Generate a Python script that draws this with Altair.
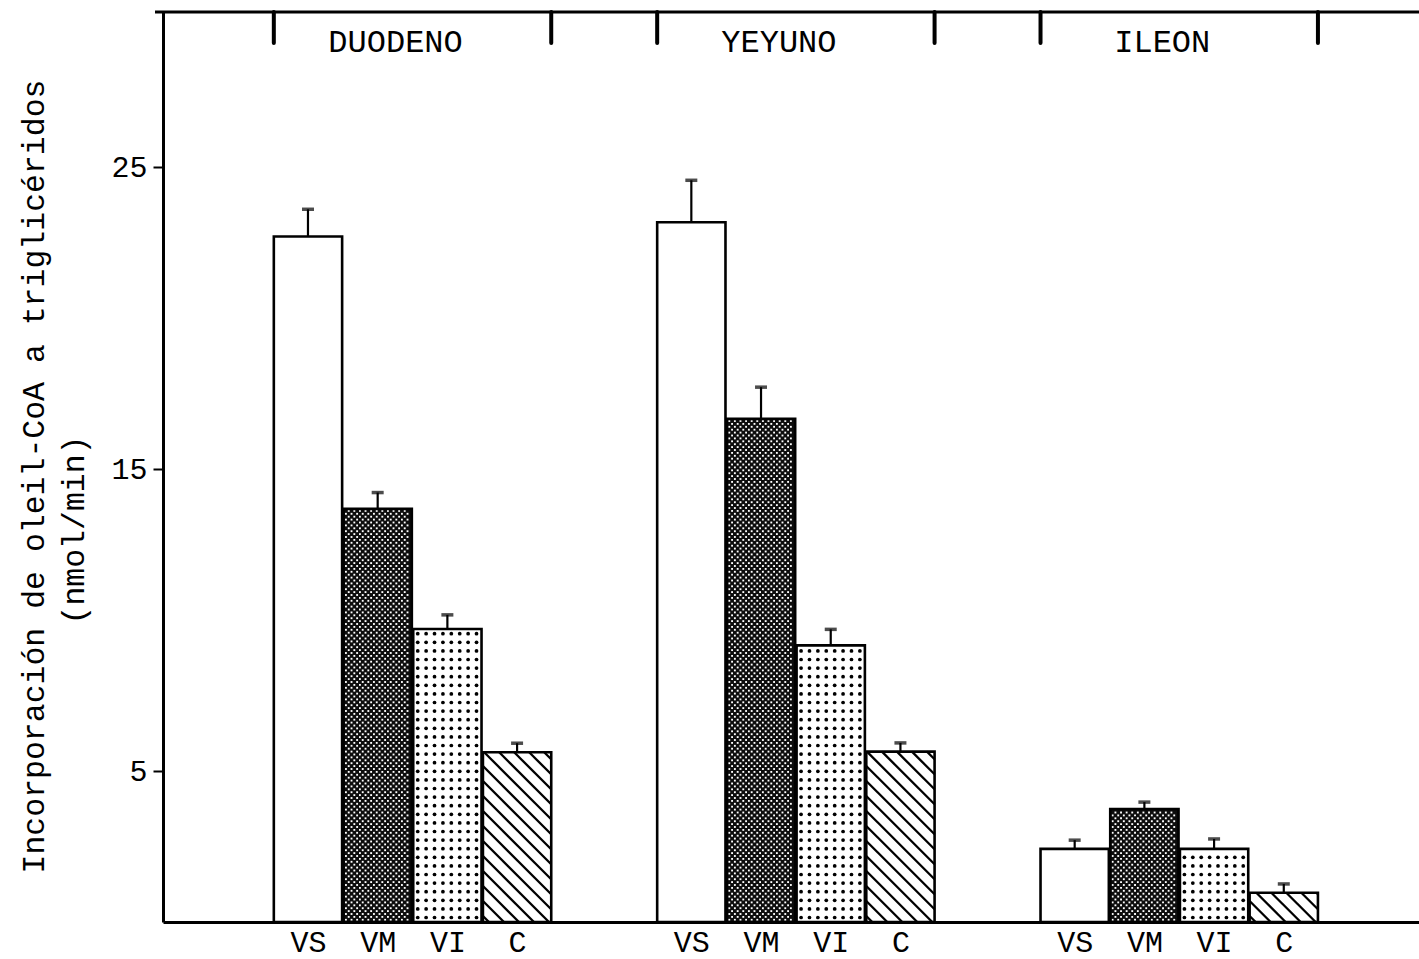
import altair as alt
import pandas as pd

# ---------------- data ----------------
groups = ["DUODENO", "YEYUNO", "ILEON"]
series = ["VS", "VM", "VI", "C"]
duodeno_mean = [22.70, 13.68, 9.70, 5.62]
duodeno_err = [0.90, 0.54, 0.47, 0.30]
yeyuno_mean = [23.17, 16.66, 9.16, 5.64]
yeyuno_err = [1.39, 1.05, 0.53, 0.29]
ileon_mean = [2.42, 3.74, 2.42, 0.97]
ileon_err = [0.29, 0.23, 0.33, 0.29]
y_ticks = [5, 15, 25]
y_title = ["Incorporación de oleil-CoA a triglicéridos", "(nmol/min)"]

# ---------------- layout ----------------
FONT = "Liberation Mono"
W, H = 1256, 910
XMIN, XMAX = -2.08, 15.94
PY = 30.2
YMAX = H / PY
GROUP_STEP = 5.5
HALF = 0.49
PX = W / (XMAX - XMIN)

means = [duodeno_mean, yeyuno_mean, ileon_mean]
errs = [duodeno_err, yeyuno_err, ileon_err]

rows = []
for g, grp in enumerate(groups):
    for s, ser in enumerate(series):
        pos = g * GROUP_STEP + s
        m = means[g][s]
        rows.append(dict(group=grp, serie=ser, pos=pos, x0=pos - HALF, x1=pos + HALF,
                         mean=m, upper=m + errs[g][s]))
bars = pd.DataFrame(rows)

# textures (derived from the bars)
vm_dots, vi_dots, hatch = [], [], []
for r in rows:
    wpx = (r["x1"] - r["x0"]) * PX
    hpx = r["mean"] * PY
    if r["serie"] == "VM":
        k = 0
        yy = 2.2
        while yy < hpx - 1.8:
            xx = 2.4 + (k % 2) * 2.8
            while xx < wpx - 1.8:
                vm_dots.append(dict(x=r["x0"] + xx / PX, y=yy / PY))
                xx += 5.6
            yy += 2.9
            k += 1
    elif r["serie"] == "VI":
        yy = 4.5
        while yy < hpx - 3:
            xx = 4.5
            while xx < wpx - 3:
                vi_dots.append(dict(x=r["x0"] + xx / PX, y=yy / PY))
                xx += 8.4
            yy += 8.6
    elif r["serie"] == "C":
        c = 6.0
        while c < wpx + hpx:
            u0 = max(0.0, c - hpx)
            u1 = min(wpx, c)
            if u1 > u0:
                hatch.append(dict(x=r["x0"] + u0 / PX, y=(c - u0) / PY,
                                  x2=r["x0"] + u1 / PX, y2=(c - u1) / PY))
            c += 15.0
vm_df = pd.DataFrame(vm_dots)
vi_df = pd.DataFrame(vi_dots)
hatch_df = pd.DataFrame(hatch)

grp_rows = []
edge_rows = []
for g, grp in enumerate(groups):
    grp_rows.append(dict(group=grp, xc=g * GROUP_STEP + 1.5))
    edge_rows.append(dict(xe=g * GROUP_STEP - HALF))
    edge_rows.append(dict(xe=g * GROUP_STEP + 3 + HALF))
grp_df = pd.DataFrame(grp_rows)
edge_df = pd.DataFrame(edge_rows)

centers = list(bars["pos"])

x_axis = alt.Axis(values=centers, labelExpr="['VS','VM','VI','C'][round(datum.value % 5.5)]",
                  ticks=False, domainWidth=3, domainColor="black", labelFont=FONT,
                  labelFontSize=30, labelColor="black", labelPadding=5, labelOverlap=False,
                  labelFlush=False, title=None, grid=False)
y_axis = alt.Axis(values=y_ticks, tickSize=10, tickWidth=2, tickColor="black",
                  domainWidth=3, domainColor="black", labelFont=FONT, labelFontSize=30,
                  labelColor="black", labelPadding=6, grid=False,
                  title=y_title[0], titleFont=FONT, titleFontSize=31.5, titleFontWeight="normal",
                  titleColor="black", titleAngle=270, titleX=-145, titleY=464,
                  titleBaseline="top", titleAlign="center")

xs = alt.Scale(domain=[XMIN, XMAX], nice=False, zero=False)
ys = alt.Scale(domain=[0, YMAX], nice=False, zero=True)


def X(f):
    return alt.X(f, type="quantitative", scale=xs, axis=x_axis)


def Y(f):
    return alt.Y(f, type="quantitative", scale=ys, axis=y_axis)


fill_scale = alt.Scale(domain=series, range=["white", "#0d0d0d", "white", "white"])

bar_fill = alt.Chart(bars).mark_rect(strokeWidth=0).encode(
    x=X("x0"), x2="x1", y=Y("mean"), y2=alt.datum(0),
    fill=alt.Fill("serie:N", scale=fill_scale, legend=None))

vm_layer = alt.Chart(vm_df).mark_square(size=3.5, color="white", opacity=1).encode(
    x=X("x"), y=Y("y"))
vi_layer = alt.Chart(vi_df).mark_circle(size=14, color="black", opacity=1).encode(
    x=X("x"), y=Y("y"))
hatch_layer = alt.Chart(hatch_df).mark_rule(strokeWidth=2.3, color="black").encode(
    x=X("x"), x2="x2", y=Y("y"), y2="y2")

bar_outline = alt.Chart(bars).mark_rect(fillOpacity=0, stroke="black", strokeWidth=2.6).encode(
    x=X("x0"), x2="x1", y=Y("mean"), y2=alt.datum(0))

err_stem = alt.Chart(bars).mark_rule(strokeWidth=2.2, color="black").encode(
    x=X("pos"), y=Y("mean"), y2="upper")
err_cap = alt.Chart(bars).mark_tick(orient="horizontal", size=12, thickness=3.5, color="black").encode(
    x=X("pos"), y=Y("upper"))

top_line = alt.Chart(pd.DataFrame({"k": [0]})).mark_rule(strokeWidth=3, color="black").encode(
    x=alt.value(-8), x2=alt.value(W), y=alt.value(0))
brackets = alt.Chart(edge_df).mark_rule(strokeWidth=4, color="black", strokeCap="round").encode(
    x=X("xe"), y=alt.value(0), y2=alt.value(31))
grp_labels = alt.Chart(grp_df).mark_text(font=FONT, fontSize=32, color="black",
                                         baseline="middle", align="center", dx=-17).encode(
    x=X("xc"), y=alt.value(30), text="group:N")
title2 = alt.Chart(pd.DataFrame({"t": [y_title[1]]})).mark_text(
    font=FONT, fontSize=31.5, color="black", angle=270, baseline="middle", align="center").encode(
    x=alt.value(-88), y=alt.value(518), text="t:N")

chart = alt.layer(bar_fill, vm_layer, vi_layer, hatch_layer, bar_outline, err_stem, err_cap,
                  top_line, brackets, grp_labels, title2).properties(
    width=W, height=H,
    padding={"left": 163, "top": 12, "right": 0, "bottom": 37},
    autosize=alt.AutoSizeParams(type="none"),
    background="white",
).configure_view(stroke=None)

chart.save("out.html", embed_options={"renderer": "svg", "actions": False})
